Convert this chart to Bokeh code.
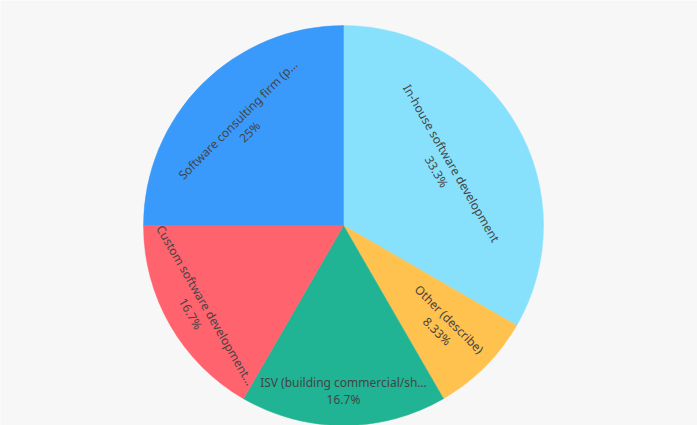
import math
from bokeh.plotting import figure
from bokeh.models import Range1d, ColumnDataSource
from bokeh.core.properties import value
from bokeh.embed import file_html
from bokeh.resources import INLINE

# ---- data ----
categories = [
    "In-house software development",
    "Other (describe)",
    "ISV (building commercial/sh…",
    "Custom software development…",
    "Software consulting firm (p…",
]
counts = [4, 1, 2, 2, 3]
pct_labels = ["33.3%", "8.33%", "16.7%", "16.7%", "25%"]
colors = ["#87E1FC", "#FFC24F", "#20B494", "#FF636E", "#3A9AFB"]

# ---- layout (not data) ----
W, H = 697, 425
cx, cy, R = 343, 200, 200
label_r = [116, 141, 165, 168, 141]
line_gap = 8.5

total = sum(counts)
starts, ends = [], []
a = math.pi / 2
for c in counts:
    starts.append(a)
    a -= 2 * math.pi * c / total
    ends.append(a)

p = figure(width=W, height=H, output_backend="svg", toolbar_location=None,
           x_range=Range1d(0, W), y_range=Range1d(0, H), min_border=0,
           background_fill_color="#F7F7F7", border_fill_color="#F7F7F7")
p.outline_line_color = None
p.axis.visible = False
p.grid.visible = False

src = ColumnDataSource(dict(x=[cx] * len(counts), y=[cy] * len(counts),
                            start=ends, end=starts, color=colors))
p.wedge(x="x", y="y", radius=R, start_angle="start", end_angle="end",
        direction="anticlock", fill_color="color", line_color="color",
        line_width=0.5, source=src)

def norm(ang):
    while ang > math.pi / 2 + 1e-9:
        ang -= math.pi
    while ang <= -math.pi / 2 + 1e-9:
        ang += math.pi
    return ang

tx, ty, tt, ta = [], [], [], []
for i, c in enumerate(counts):
    mid = (starts[i] + ends[i]) / 2
    if c / total < 0.1:
        ang = norm(mid)
    else:
        ang = norm(mid + math.pi / 2)
    bx = cx + label_r[i] * math.cos(mid)
    by = cy + label_r[i] * math.sin(mid)
    dx, dy = math.sin(ang), -math.cos(ang)
    tx += [bx - dx * line_gap, bx + dx * line_gap]
    ty += [by - dy * line_gap, by + dy * line_gap]
    tt += [categories[i], pct_labels[i]]
    ta += [ang, ang]

p.text(x=tx, y=ty, text=tt, angle=ta, text_align="center",
       text_baseline="middle", text_font=value("Noto Sans"),
       text_font_size="12px", text_color="#444444")

open("out.html", "w").write(file_html(p, INLINE))
